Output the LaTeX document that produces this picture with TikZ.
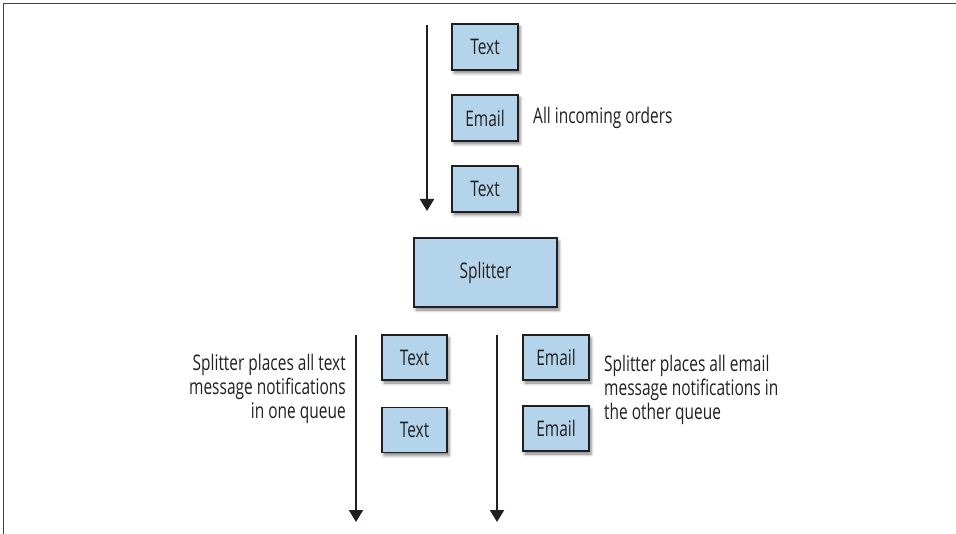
\documentclass[tikz,border=0pt]{standalone}
\usepackage{fontspec}
\setmainfont[FakeStretch=0.72]{Open Sans}
\usetikzlibrary{arrows.meta,shadows.blur}
\definecolor{boxblue}{HTML}{B3D4EA}
\definecolor{ink}{HTML}{231F20}
\begin{document}
\begin{tikzpicture}[x=1pt,y=-1pt,
  msg/.style={draw=ink,line width=1.6pt,fill=boxblue,text=ink,
    minimum width=66pt,minimum height=46pt,inner sep=0pt,
    font=\fontsize{21.5}{24}\selectfont,
    blur shadow={shadow xshift=2pt,shadow yshift=-3pt,shadow blur radius=3pt,shadow opacity=50}},
  lbl/.style={text=ink,inner sep=0pt,font=\fontsize{21.5}{24}\selectfont},
  flow/.style={draw=ink,line width=2pt,-{Triangle[width=14pt,length=12pt]}}]
\useasboundingbox (0,0) rectangle (956,534);
\draw[draw=ink!85,line width=1.6pt] (3.5,534) -- (3.5,3.5) -- (956,3.5);
% top queue
\node[msg] (t1) at (485,47) {Text};
\node[msg] (e1) at (485,118) {Email};
\node[msg] (t2) at (485,189) {Text};
\node[lbl,anchor=west] (inc) at (533,118) {All incoming orders};
\coordinate (a0) at (427,25);
\coordinate (a1) at (427,211);
\draw[flow] (a0) -- (a1);
% splitter
\node[msg,minimum width=143pt,minimum height=69pt] (sp) at (485.5,272.5) {Splitter};
% left queue
\node[msg,minimum width=65pt,minimum height=45pt] (lt1) at (414.5,357.5) {Text};
\node[msg,minimum width=65pt,minimum height=45pt] (lt2) at (414.5,430) {Text};
\coordinate (b0) at (356,335);
\coordinate (b1) at (356,522);
\draw[flow] (b0) -- (b1);
\node[lbl,anchor=east,align=right] (ltxt) at (346,389) {Splitter places all text\\message notifications\\in one queue};
% right queue
\node[msg,minimum height=45pt] (re1) at (556,357.5) {Email};
\node[msg,minimum height=45pt] (re2) at (556,428.5) {Email};
\coordinate (c0) at (497,335);
\coordinate (c1) at (497,522);
\draw[flow] (c0) -- (c1);
\node[lbl,anchor=west,align=left] (rtxt) at (604,390) {Splitter places all email\\message notifications in\\the other queue};
\end{tikzpicture}
\end{document}
